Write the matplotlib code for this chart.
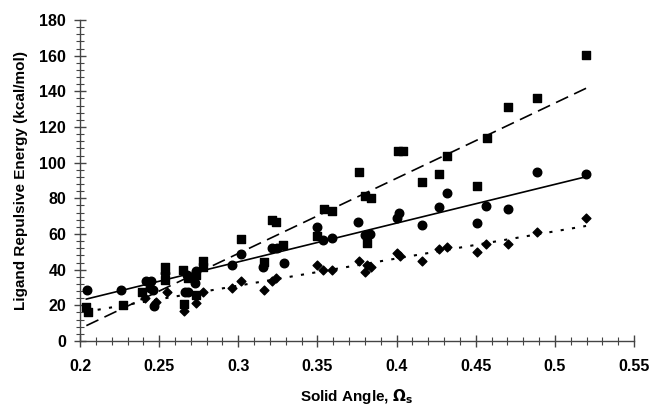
import numpy as np
import matplotlib
matplotlib.use("Agg")
import matplotlib.pyplot as plt
from matplotlib.ticker import MultipleLocator

# data
sq_x = [0.204, 0.205, 0.227, 0.239, 0.254, 0.254, 0.265, 0.268, 0.266, 0.273, 0.273,
        0.278, 0.278, 0.302, 0.316, 0.321, 0.324, 0.3285, 0.3496, 0.354, 0.359, 0.376,
        0.380, 0.384, 0.381, 0.4006, 0.404, 0.416, 0.427, 0.432, 0.4507, 0.457, 0.4705,
        0.4887, 0.5197]
sq_y = [19.0, 16.5, 20.0, 27.7, 41.3, 34.2, 39.8, 35.1, 20.7, 37.0, 25.8,
        44.9, 41.7, 57.0, 44.5, 67.8, 67.0, 53.8, 59.0, 73.8, 72.9, 95.0,
        81.5, 80.0, 55.0, 106.7, 106.7, 89.0, 93.8, 104.0, 87.0, 114.0, 131.0,
        136.4, 160.4]

ci_x = [0.2046, 0.226, 0.2417, 0.245, 0.244, 0.246, 0.247, 0.254, 0.2674, 0.2664, 0.2685,
        0.2733, 0.2727, 0.2959, 0.302, 0.3159, 0.3211, 0.3243, 0.329, 0.3496, 0.3538,
        0.359, 0.3759, 0.380, 0.383, 0.400, 0.4018, 0.416, 0.427, 0.4318, 0.4507,
        0.4566, 0.4707, 0.4887, 0.5197]
ci_y = [28.6, 28.6, 33.8, 33.8, 29.5, 28.6, 19.5, 38.3, 37.0, 27.7, 27.7,
        39.4, 32.7, 42.6, 48.8, 41.3, 52.0, 52.0, 43.9, 63.7, 56.6,
        57.6, 66.9, 59.4, 60.0, 68.8, 72.0, 65.0, 75.0, 82.8, 66.0,
        75.9, 73.8, 94.8, 93.8]

di_x = [0.241, 0.248, 0.2548, 0.266, 0.2733, 0.278, 0.2963, 0.302, 0.3163, 0.321, 0.324,
        0.350, 0.3538, 0.359, 0.376, 0.380, 0.381, 0.384, 0.400, 0.402, 0.416, 0.427,
        0.4318, 0.4507, 0.4566, 0.4707, 0.4887, 0.5197]
di_y = [24.0, 22.0, 27.7, 16.8, 21.5, 27.7, 29.5, 33.8, 28.6, 33.8, 35.5,
        42.6, 39.8, 39.8, 44.9, 38.9, 42.6, 41.7, 49.2, 47.8, 44.9, 51.6,
        52.5, 50.1, 54.2, 54.2, 61.0, 68.8]

# trend lines (end values)
fit_x = [0.204, 0.5197]
sq_fit = [8.6, 141.7]
ci_fit = [23.5, 92.1]
di_fit = [16.4, 64.5]

plt.rcParams["font.family"] = ["Liberation Sans", "DejaVu Sans"]
plt.rcParams["font.weight"] = "bold"

fig = plt.figure(figsize=(6.49, 4.07), dpi=100)
ax = fig.add_axes([0.1233, 0.1622, 0.8536, 0.7887])

ax.plot(fit_x, sq_fit, color="black", lw=1.2, dashes=(8, 4))
ax.plot(fit_x, ci_fit, color="black", lw=1.2)
ax.plot(fit_x, di_fit, color="black", lw=1.5, dashes=(1.5, 4))

ax.scatter(sq_x, sq_y, marker="s", s=26, color="black", zorder=3)
ax.scatter(ci_x, ci_y, marker="o", s=38, color="black", zorder=3)
ax.scatter(di_x, di_y, marker="D", s=20, color="black", zorder=3)

ax.set_xlim(0.2, 0.55)
ax.set_ylim(0, 180)
ax.xaxis.set_minor_locator(MultipleLocator(0.01))
ax.yaxis.set_major_locator(MultipleLocator(20))
ax.yaxis.set_minor_locator(MultipleLocator(4))
ax.set_xticks(np.arange(0.2, 0.551, 0.05))
ax.set_xticklabels(["0.2", "0.25", "0.3", "0.35", "0.4", "0.45", "0.5", "0.55"])

for side in ["top", "right"]:
    ax.spines[side].set_visible(False)
for side in ["left", "bottom"]:
    ax.spines[side].set_color("#444444")
    ax.spines[side].set_linewidth(1.0)

ax.tick_params(which="major", direction="inout", length=8, width=1.0, color="#444444",
               labelsize=11.5)
ax.tick_params(axis="x", which="major", pad=9)
ax.tick_params(axis="y", which="major", pad=6)
ax.tick_params(which="minor", direction="inout", length=6, width=0.8, color="#444444")

ax.set_xlabel(r"Solid Angle, $\Omega_\mathbf{s}$", fontsize=11, fontweight="bold", labelpad=9)
ax.set_ylabel("Ligand Repulsive Energy (kcal/mol)", fontsize=11, fontweight="bold", labelpad=8)

plt.savefig("out.png", dpi=100)
